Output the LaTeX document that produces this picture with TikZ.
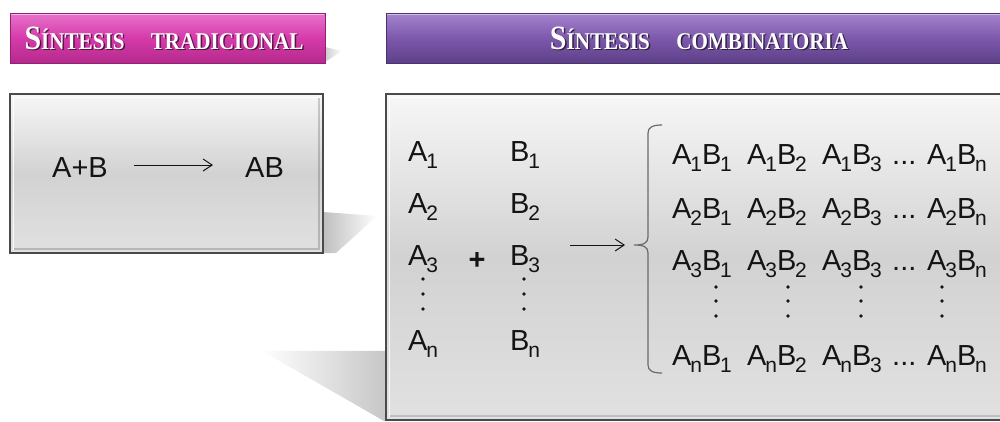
\documentclass[tikz,border=0pt]{standalone}
\usepackage{fontspec}
\setmainfont{Liberation Sans}
\newfontfamily\hdrfont{Liberation Serif}
\usetikzlibrary{arrows.meta,fadings}
\definecolor{pinkT}{HTML}{E873CB}
\definecolor{pinkM}{HTML}{D63AAA}
\definecolor{pinkB}{HTML}{B42A8C}
\definecolor{purT}{HTML}{A584CF}
\definecolor{purM}{HTML}{7D58AB}
\definecolor{purB}{HTML}{5D4088}
\definecolor{boxT}{HTML}{F7F7F7}
\definecolor{boxM}{HTML}{D2D2D2}
\definecolor{boxB}{HTML}{E1E1E1}
\definecolor{edgec}{HTML}{4A4A4A}
\definecolor{ink}{HTML}{141414}
\definecolor{bracec}{HTML}{6A6A6A}
\newcommand\sbx[1]{\kern-1.2pt\raisebox{-7pt}{\fontsize{21}{21}\selectfont #1}}
\newcommand\hdrtext[1]{\scalebox{0.88}[1]{{\fontsize{34}{34}\selectfont S}{\fontsize{24}{24}\selectfont ÍNTESIS\hspace{30pt}#1}}}
\begin{document}
\begin{tikzpicture}[x=1pt,y=-1pt,
  txt/.style={inner sep=0pt, anchor=base west, text=ink, font=\fontsize{29}{29}\selectfont},
  hdr/.style={inner sep=0pt, anchor=base, font=\hdrfont\bfseries},
  arr/.style={draw=ink, line width=1pt, -{Straight Barb[length=9pt,width=12pt,line width=1pt]}},
  brc/.style={draw=bracec, line width=1.2pt},
  panel/.style={draw=edgec, line width=2.5pt, top color=boxT, bottom color=boxB, middle color=boxM},
  dotm/.style={fill=ink}
]
\useasboundingbox (0,0) rectangle (1000,421);
\clip (0,0) rectangle (1000,421);
\fill[white] (0,0) rectangle (1000,421);

% shadows
\fill[gray!50, path fading=east] (323,212) -- (377,216) -- (336,253) -- (323,253) -- cycle;
\fill[gray!45, path fading=west] (262,351) -- (388,351) -- (388,421) -- (384,421) -- cycle;
\fill[gray!40, path fading=east] (325,47) -- (342,51) -- (325,62) -- cycle;

% headers
\shade[top color=pinkT, bottom color=pinkB, middle color=pinkM] (10,13) rectangle (325,63);
\draw[pinkB!80!black, line width=0.8pt] (10,13) rectangle (325,63);
\draw[white, opacity=0.5, line width=1pt] (11,14.5) -- (324,14.5);
\shade[top color=purT, bottom color=purB, middle color=purM] (386,13) rectangle (1010,63);
\draw[purB!80!black, line width=0.8pt] (386,13) rectangle (1010,63);
\draw[white, opacity=0.5, line width=1pt] (387,14.5) -- (1009,14.5);

\node[hdr, text=black, opacity=0.6] (h1s) at (165.5,50.5) {\hdrtext{TRADICIONAL}};
\node[hdr, text=white] (h1) at (164,49) {\hdrtext{TRADICIONAL}};
\node[hdr, text=black, opacity=0.6] (h2s) at (700.5,50.5) {\hdrtext{COMBINATORIA}};
\node[hdr, text=white] (h2) at (699,49) {\hdrtext{COMBINATORIA}};

% panels
\path[panel] (10,94) rectangle (323,253);
\draw[white, opacity=0.8, line width=1.2pt] (13.5,250) -- (13.5,97.5) -- (320,97.5);
\draw[black, opacity=0.18, line width=2pt] (14,249) -- (319,249) -- (319,98);
\path[panel] (386,94) rectangle (1010,420);
\draw[white, opacity=0.8, line width=1.2pt] (389.5,417) -- (389.5,97.5) -- (1010,97.5);
\draw[black, opacity=0.15, line width=2pt] (390,416) -- (1010,416);

% left panel content
\node[txt] (apb) at (52,177) {A+B};
\node[txt] (ab) at (245,177) {AB};
\draw[arr] ([xshift=26pt,yshift=2pt]apb.east) -- ([xshift=-32pt,yshift=2pt]ab.west);

% combinatorial content
\foreach \r/\y in {1/161,2/213,3/265,n/350}{
  \node[txt] (a\r) at (408,\y) {A\sbx{\r}};
  \node[txt] (b\r) at (510,\y) {B\sbx{\r}};
}
\node[inner sep=0pt, text=ink, font=\fontsize{29}{29}\selectfont\bfseries] (plus) at (477,261) {+};
\foreach \y in {279,294,309}{
  \fill[dotm] (423,\y) circle (1.8);
  \fill[dotm] (524,\y) circle (1.8);
}
\coordinate (as) at (570,245);
\coordinate (bt) at (634,245);
\draw[arr] (as) -- ([xshift=-9pt]bt);
\draw[brc] (662,125) .. controls (653,125) and (648,127) .. (648,133) -- (648,237)
  .. controls (648,243) and (644,245) .. (bt)
  .. controls (644,245) and (648,247) .. (648,253) -- (648,365)
  .. controls (648,371) and (653,373) .. (662,373);

\foreach \r/\y in {1/164,2/218,3/270,n/365}{
  \node[txt] (p\r a) at (672,\y) {A\sbx{\r}B\sbx{1}};
  \node[txt] (p\r b) at (747,\y) {A\sbx{\r}B\sbx{2}};
  \node[txt] (p\r c) at (822,\y) {A\sbx{\r}B\sbx{3}};
  \node[txt] (p\r d) at (892,\y) {...};
  \node[txt] (p\r e) at (927,\y) {A\sbx{\r}B\sbx{n}};
}
\foreach \x in {716,788,861,942}{
  \foreach \y in {287,301,316}{
    \fill[dotm] (\x,\y) circle (1.8);
  }
}
\end{tikzpicture}
\end{document}
